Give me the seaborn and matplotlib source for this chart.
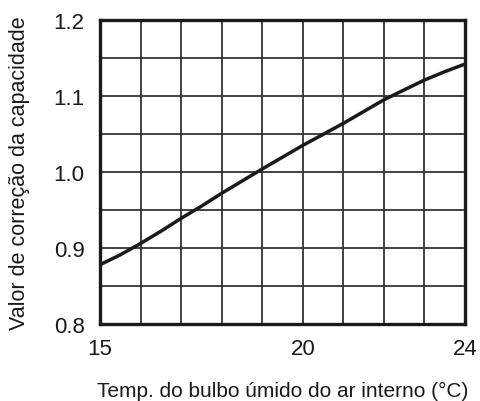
import numpy as np
import pandas as pd
import matplotlib
matplotlib.use('Agg')
import matplotlib.pyplot as plt
import seaborn as sns

# values
temp = [15, 15.5, 16, 16.5, 17, 17.5, 18, 18.5, 19, 20, 21, 22, 22.5, 23, 23.5, 24]
factor = [0.878, 0.891, 0.906, 0.922, 0.939, 0.955, 0.972, 0.988, 1.004,
          1.035, 1.064, 1.095, 1.108, 1.121, 1.132, 1.142]
x_ticks = [15, 20, 24]
y_ticks = [0.8, 0.9, 1.0, 1.1, 1.2]

df = pd.DataFrame({'temp': temp, 'factor': factor})

sns.set_style('white')
plt.rcParams['font.family'] = ['Liberation Sans', 'DejaVu Sans']

fig = plt.figure(figsize=(4.8, 4.02), dpi=100)
ax = fig.add_axes([100 / 480, 77 / 402, 365 / 480, 304 / 402])

sns.lineplot(data=df, x='temp', y='factor', ax=ax, color='#1a1a1a', linewidth=2.5)

ax.set_xlim(15, 24)
ax.set_ylim(0.8, 1.2)
ax.set_xticks(np.arange(15, 25, 1), minor=True)
ax.set_yticks(np.arange(0.8, 1.2001, 0.05), minor=True)
ax.set_xticks(x_ticks)
ax.set_yticks(y_ticks)
ax.set_yticklabels([f'{v:.1f}' for v in y_ticks])
ax.grid(which='both', color='#333333', linewidth=1.3)
ax.tick_params(which='both', length=0, labelsize=16, colors='#1a1a1a')
ax.tick_params(axis='x', pad=10)
ax.tick_params(axis='y', pad=11)
for s in ax.spines.values():
    s.set_linewidth(2.4)
    s.set_color('#1a1a1a')

ax.set_xlabel('Temp. do bulbo úmido do ar interno (°C)', fontsize=15, labelpad=16, color='#1a1a1a')
ax.set_ylabel('Valor de correção da capacidade', fontsize=15.5, labelpad=17, color='#1a1a1a')

fig.savefig('out.png', dpi=100)
